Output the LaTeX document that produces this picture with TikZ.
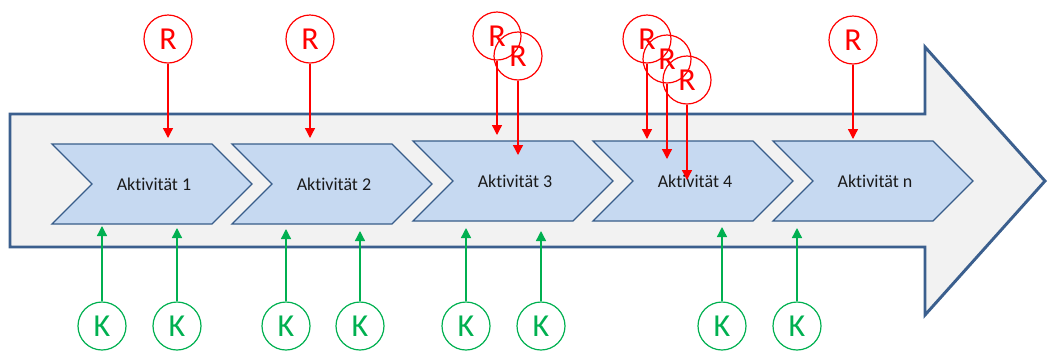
\documentclass[tikz,border=0pt]{standalone}
\usepackage{fontspec}
\setmainfont{Carlito}[Ligatures={NoCommon}]
\usetikzlibrary{arrows.meta}
\definecolor{bandfill}{HTML}{F2F2F2}
\definecolor{bandline}{HTML}{3B5F8E}
\definecolor{chevfill}{HTML}{C6D9F1}
\definecolor{chevline}{HTML}{385D8A}
\definecolor{rred}{HTML}{FF0000}
\definecolor{kgreen}{HTML}{00B050}
\definecolor{txt}{HTML}{1A1A1A}
\tikzset{
  band/.style={draw=bandline, fill=bandfill, line width=2.2pt, line join=miter},
  chev/.style={draw=chevline, fill=chevfill, line width=1pt, line join=miter},
  acttext/.style={text=txt, font=\fontsize{13.5pt}{15pt}\selectfont, inner sep=0pt},
  rcirc/.style={circle, draw=rred, text=rred, line width=0.9pt, minimum size=36pt, inner sep=0pt, font=\fontsize{24pt}{26pt}\selectfont},
  kcirc/.style={circle, draw=kgreen, text=kgreen, line width=0.9pt, minimum size=36pt, inner sep=0pt, font=\fontsize{24pt}{26pt}\selectfont},
  rarrow/.style={draw=rred, line width=1pt, -{Triangle[width=7.5pt,length=7.5pt]}},
  karrow/.style={draw=kgreen, line width=1pt, -{Triangle[width=7.5pt,length=7.5pt]}},
}
\begin{document}
\begin{tikzpicture}[x=0.75pt, y=-0.75pt]
\useasboundingbox (0,0) rectangle (1047,351);

% big process arrow
\path[band] (10,114) -- (925,114) -- (925,47) -- (1045,181) -- (925,315)
  -- (925,247) -- (10,247) -- cycle;

% activity chevrons: left edge, vertical centre
\foreach \x/\y in {52/184, 232/184, 413/181, 593/181, 773/181}{
  \path[chev] (\x,\y-40) -- (\x+160,\y-40) -- (\x+200,\y) -- (\x+160,\y+40)
    -- (\x,\y+40) -- (\x+40,\y) -- cycle;
}
\node[acttext] (a1) at (154,184) {Aktivität 1};
\node[acttext] (a2) at (334,184) {Aktivität 2};
\node[acttext] (a3) at (515,181) {Aktivität 3};
\node[acttext] (a4) at (695,181) {Aktivität 4};
\node[acttext] (an) at (875,181) {Aktivität n};

% resources (R)
\node[rcirc] (r1) at (168,39) {R};
\node[rcirc] (r2) at (310,39) {R};
\node[rcirc] (r3a) at (497,36) {R};
\node[rcirc] (r3b) at (518,56) {R};
\node[rcirc] (r4a) at (647,39) {R};
\node[rcirc] (r4b) at (667,59) {R};
\node[rcirc] (r4c) at (687,80) {R};
\node[rcirc] (rn) at (853,40) {R};

\coordinate (er1) at (168,138);
\coordinate (er2) at (310,138);
\coordinate (er3a) at (497,135);
\coordinate (er3b) at (518,155);
\coordinate (er4a) at (647,139);
\coordinate (er4b) at (667,159);
\coordinate (er4c) at (687,180);
\coordinate (ern) at (853,139);

\foreach \n in {r1,r2,r3a,r3b,r4a,r4b,r4c,rn}{
  \draw[rarrow] (\n.south) -- (e\n);
}

% controls (K)
\foreach \n/\x/\t in {k1/102/226, k2/177/228, k3/286/229, k4/360/231,
                      k5/466/228, k6/541/231, k7/722/227, k8/797/228}{
  \node[kcirc] (\n) at (\x,326) {K};
  \coordinate (e\n) at (\x,\t);
  \draw[karrow] (\n.north) -- (e\n);
}
\end{tikzpicture}
\end{document}
